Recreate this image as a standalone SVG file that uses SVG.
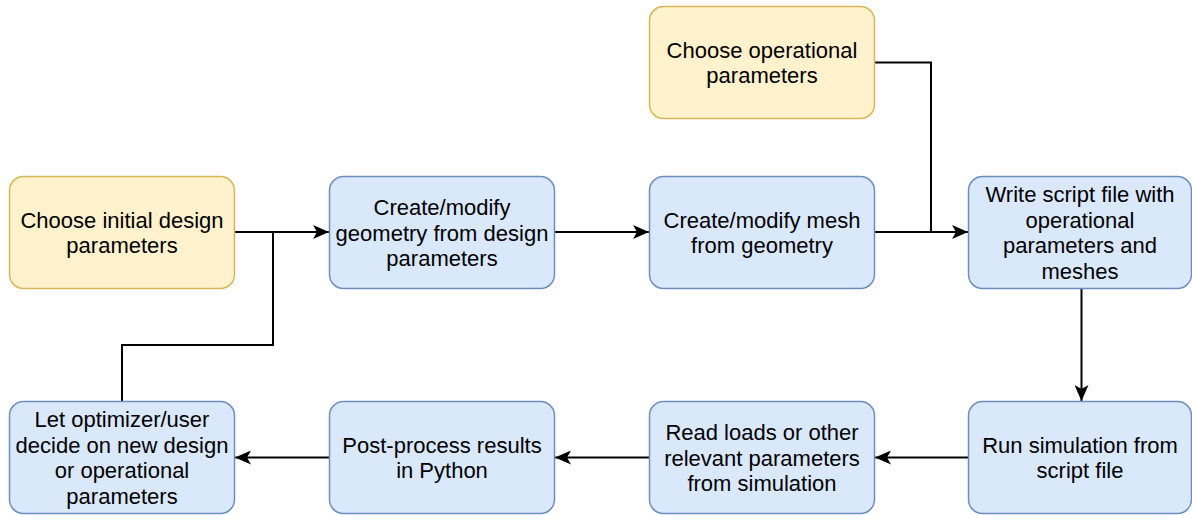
<svg xmlns="http://www.w3.org/2000/svg" width="1192" height="515" viewBox="0 0 1192 515">
<style>
.y{fill:#fff2cc;stroke:#d6b656;stroke-width:1.5}
.b{fill:#dae8fc;stroke:#6c8ebf;stroke-width:1.5}
text{font-family:"Liberation Sans",Arial,sans-serif;font-size:22px;fill:#000;text-anchor:middle}
.e{fill:none;stroke:#000;stroke-width:2}
</style>
<defs>
<marker id="a" viewBox="0 0 16 14" refX="16" refY="7" markerWidth="16" markerHeight="14" markerUnits="userSpaceOnUse" orient="auto">
<path d="M0,0 L16,7 L0,14 L4,7 Z" fill="#000"/>
</marker>
</defs>
<rect width="1192" height="515" fill="#fff"/>
<g id="connectors">
<path class="e" d="M235,232 H329" marker-end="url(#a)"/>
<path class="e" d="M122,401 V345 H273 V232"/>
<path class="e" d="M555,232 H649" marker-end="url(#a)"/>
<path class="e" d="M875,232 H968" marker-end="url(#a)"/>
<path class="e" d="M875,62.5 H931 V232"/>
<path class="e" d="M1081.5,289 V401" marker-end="url(#a)"/>
<path class="e" d="M968,457.5 H875" marker-end="url(#a)"/>
<path class="e" d="M649,457.5 H555" marker-end="url(#a)"/>
<path class="e" d="M329,457.5 H235" marker-end="url(#a)"/>
</g>
<g id="n1"><rect class="y" x="9.5" y="176.5" width="225" height="112" rx="14"/>
<text x="122" y="227.75">Choose initial design</text><text x="122" y="253.25">parameters</text></g>
<g id="n2"><rect class="b" x="329.5" y="176.5" width="225" height="112" rx="14"/>
<text x="442" y="215">Create/modify</text><text x="442" y="240.5">geometry from design</text><text x="442" y="266">parameters</text></g>
<g id="n3"><rect class="b" x="649.5" y="176.5" width="225" height="112" rx="14"/>
<text x="762" y="227.75">Create/modify mesh</text><text x="762" y="253.25">from geometry</text></g>
<g id="n4"><rect class="b" x="968.5" y="176.5" width="223" height="112" rx="14"/>
<text x="1080" y="202.25">Write script file with</text><text x="1080" y="227.75">operational</text><text x="1080" y="253.25">parameters and</text><text x="1080" y="278.75">meshes</text></g>
<g id="n5"><rect class="y" x="649.5" y="6.5" width="225" height="112" rx="14"/>
<text x="762" y="57.75">Choose operational</text><text x="762" y="83.25">parameters</text></g>
<g id="n6"><rect class="b" x="968.5" y="401.5" width="223" height="112" rx="14"/>
<text x="1080" y="452.75">Run simulation from</text><text x="1080" y="478.25">script file</text></g>
<g id="n7"><rect class="b" x="649.5" y="401.5" width="225" height="112" rx="14"/>
<text x="762" y="440">Read loads or other</text><text x="762" y="465.5">relevant parameters</text><text x="762" y="491">from simulation</text></g>
<g id="n8"><rect class="b" x="329.5" y="401.5" width="225" height="112" rx="14"/>
<text x="442" y="452.75">Post-process results</text><text x="442" y="478.25">in Python</text></g>
<g id="n9"><rect class="b" x="9.5" y="401.5" width="225" height="112" rx="14"/>
<text x="122" y="427.25">Let optimizer/user</text><text x="122" y="452.75">decide on new design</text><text x="122" y="478.25">or operational</text><text x="122" y="503.75">parameters</text></g>
</svg>
